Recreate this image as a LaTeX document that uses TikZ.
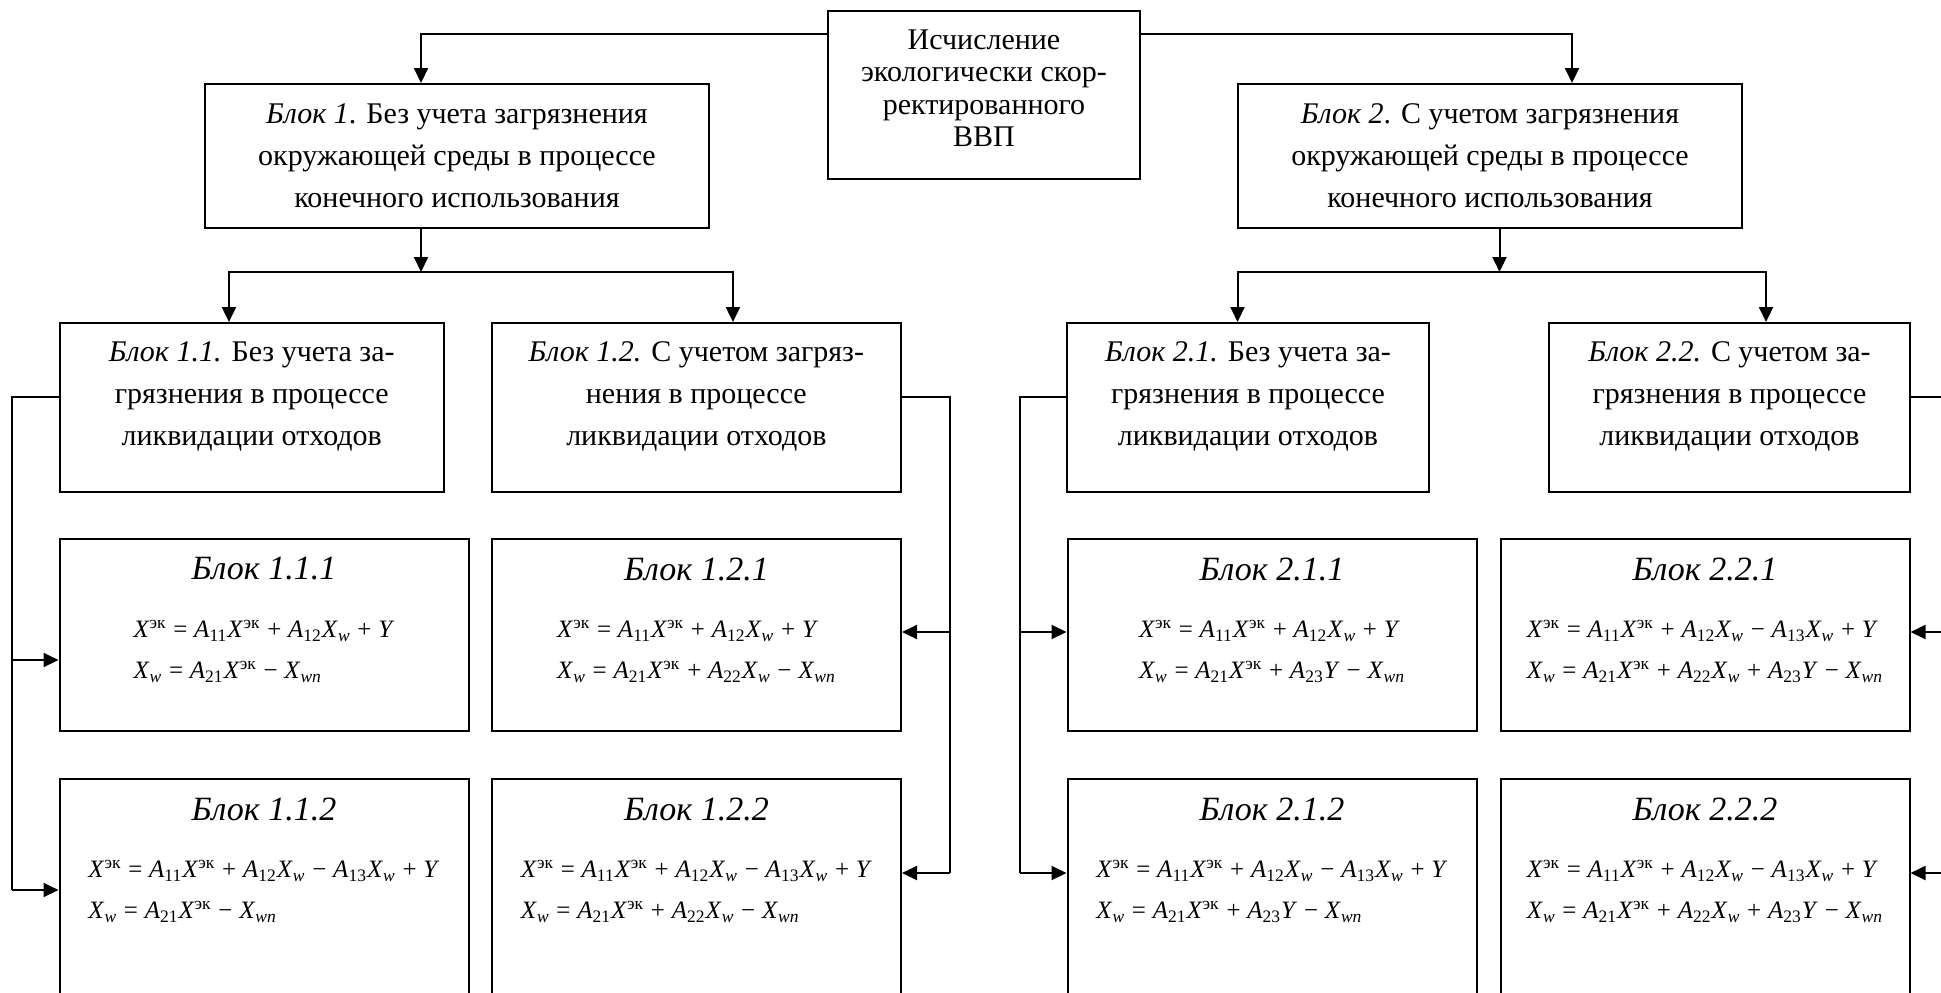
\documentclass[tikz,border=0pt]{standalone}
\usepackage{fontspec}
\setmainfont{Liberation Serif}
\usetikzlibrary{arrows.meta,positioning}

\newcommand{\Xek}{\textit{X}\textsuperscript{эк}}
\newcommand{\Xw}{\textit{X}\textsubscript{\textit{w}}}
\newcommand{\Xwn}{\textit{X}\textsubscript{\textit{wn}}}
\newcommand{\Ai}[1]{\textit{A}\textsubscript{#1}}
\newcommand{\Yv}{\textit{Y}}
\newcommand{\opr}[1]{\hspace{.27em}#1\hspace{.27em}}

\tikzset{
	blk/.style={draw,line width=1pt,align=center,inner sep=0pt,font=\fontsize{15}{21}\selectfont},
	topblk/.style={blk,font=\fontsize{15}{16.2}\selectfont},
	frm/.style={draw,line width=1pt,inner sep=0pt,minimum width=204.5pt},
	head/.style={inner sep=0pt,font=\fontsize{17}{20}\selectfont\itshape},
	eqs/.style={inner sep=0pt,align=left,font=\fontsize{12.5}{20.5}\selectfont},
	con/.style={line width=1pt},
	arr/.style={con,-{Triangle[length=7.5pt,width=7pt]}}
}

\begin{document}
\begin{tikzpicture}[x=0.5pt,y=-0.5pt]
\useasboundingbox (0,0) rectangle (1941,992);
\clip (0,0) rectangle (1941,992);
\node[topblk,minimum width=156pt,minimum height=84pt,text depth=7pt] (top) at (984,95)
	{Исчисление\\экологически скор-\\ректированного\\ВВП};
\node[blk,minimum width=252pt,minimum height=72pt] (b1) at (457,156)
	{\textit{Блок 1}. Без учета загрязнения\\окружающей среды в процессе\\конечного использования};
\node[blk,minimum width=252pt,minimum height=72pt] (b2) at (1490,156)
	{\textit{Блок 2}. С учетом загрязнения\\окружающей среды в процессе\\конечного использования};
\node[blk,minimum width=191.75pt,minimum height=84.5pt,text depth=14pt] (b11) at (251.75,407.5)
	{\textit{Блок 1.1.} Без учета за-\\грязнения в процессе\\ликвидации отходов};
\node[blk,minimum width=204.35pt,minimum height=84.5pt,text depth=14pt] (b12) at (696.35,407.5)
	{\textit{Блок 1.2.} С учетом загряз-\\нения в процессе\\ликвидации отходов};
\node[blk,minimum width=181pt,minimum height=84.5pt,text depth=14pt] (b21) at (1248,407.5)
	{\textit{Блок 2.1.} Без учета за-\\грязнения в процессе\\ликвидации отходов};
\node[blk,minimum width=180.5pt,minimum height=84.5pt,text depth=14pt] (b22) at (1729.5,407.5)
	{\textit{Блок 2.2.} С учетом за-\\грязнения в процессе\\ликвидации отходов};

\node[frm,minimum height=96pt] (f111) at (264,635) {};
\node[frm,minimum height=96pt] (f121) at (696.5,635) {};
\node[frm,minimum height=96pt] (f211) at (1272,635) {};
\node[frm,minimum height=96pt] (f221) at (1705,635) {};
\node[frm,minimum height=130.5pt] (f112) at (264,909.5) {};
\node[frm,minimum height=130.5pt] (f122) at (696.5,909.5) {};
\node[frm,minimum height=130.5pt] (f212) at (1272,909.5) {};
\node[frm,minimum height=130.5pt] (f222) at (1705,909.5) {};

\node[head] (t111) at ([yshift=-15.5pt]f111.north) {Блок 1.1.1};
\node[head] (t121) at ([yshift=-15.5pt]f121.north) {Блок 1.2.1};
\node[head] (t211) at ([yshift=-15.5pt]f211.north) {Блок 2.1.1};
\node[head] (t221) at ([yshift=-15.5pt]f221.north) {Блок 2.2.1};
\node[head] (t112) at ([yshift=-15.5pt]f112.north) {Блок 1.1.2};
\node[head] (t122) at ([yshift=-15.5pt]f122.north) {Блок 1.2.2};
\node[head] (t212) at ([yshift=-15.5pt]f212.north) {Блок 2.1.2};
\node[head] (t222) at ([yshift=-15.5pt]f222.north) {Блок 2.2.2};

\node[eqs] (e111) at ([yshift=-56.75pt]f111.north)
	{\Xek\opr{=}\Ai{11}\Xek\opr{+}\Ai{12}\Xw\opr{+}\Yv\\
	\Xw\opr{=}\Ai{21}\Xek\opr{−}\Xwn};
\node[eqs] (e121) at ([yshift=-56.75pt]f121.north)
	{\Xek\opr{=}\Ai{11}\Xek\opr{+}\Ai{12}\Xw\opr{+}\Yv\\
	\Xw\opr{=}\Ai{21}\Xek\opr{+}\Ai{22}\Xw\opr{−}\Xwn};
\node[eqs] (e211) at ([yshift=-56.75pt]f211.north)
	{\Xek\opr{=}\Ai{11}\Xek\opr{+}\Ai{12}\Xw\opr{+}\Yv\\
	\Xw\opr{=}\Ai{21}\Xek\opr{+}\Ai{23}\Yv\opr{−}\Xwn};
\node[eqs] (e221) at ([yshift=-56.75pt]f221.north)
	{\Xek\opr{=}\Ai{11}\Xek\opr{+}\Ai{12}\Xw\opr{−}\Ai{13}\Xw\opr{+}\Yv\\
	\Xw\opr{=}\Ai{21}\Xek\opr{+}\Ai{22}\Xw\opr{+}\Ai{23}\Yv\opr{−}\Xwn};
\node[eqs] (e112) at ([yshift=-56.75pt]f112.north)
	{\Xek\opr{=}\Ai{11}\Xek\opr{+}\Ai{12}\Xw\opr{−}\Ai{13}\Xw\opr{+}\Yv\\
	\Xw\opr{=}\Ai{21}\Xek\opr{−}\Xwn};
\node[eqs] (e122) at ([yshift=-56.75pt]f122.north)
	{\Xek\opr{=}\Ai{11}\Xek\opr{+}\Ai{12}\Xw\opr{−}\Ai{13}\Xw\opr{+}\Yv\\
	\Xw\opr{=}\Ai{21}\Xek\opr{+}\Ai{22}\Xw\opr{−}\Xwn};
\node[eqs] (e212) at ([yshift=-56.75pt]f212.north)
	{\Xek\opr{=}\Ai{11}\Xek\opr{+}\Ai{12}\Xw\opr{−}\Ai{13}\Xw\opr{+}\Yv\\
	\Xw\opr{=}\Ai{21}\Xek\opr{+}\Ai{23}\Yv\opr{−}\Xwn};
\node[eqs] (e222) at ([yshift=-56.75pt]f222.north)
	{\Xek\opr{=}\Ai{11}\Xek\opr{+}\Ai{12}\Xw\opr{−}\Ai{13}\Xw\opr{+}\Yv\\
	\Xw\opr{=}\Ai{21}\Xek\opr{+}\Ai{22}\Xw\opr{+}\Ai{23}\Yv\opr{−}\Xwn};

\draw[arr] ([yshift=-12pt]top.north west) -| ([xshift=-18pt]b1.north);
\draw[arr] ([yshift=-12pt]top.north east) -| ([xshift=41pt]b2.north);

\coordinate (j1) at (421,272);
\coordinate (j2) at (1499.5,272);
\draw[arr] ([xshift=-18pt]b1.south) -- (j1);
\draw[arr] (j1) -| ([xshift=-11.4pt]b11.north);
\draw[arr] (j1) -| ([xshift=18.3pt]b12.north);
\draw[arr] ([xshift=4.75pt]b2.south) -- (j2);
\draw[arr] (j2) -| ([xshift=-5.25pt]b21.north);
\draw[arr] (j2) -| ([xshift=18.25pt]b22.north);

\coordinate (p111) at (12,660);
\coordinate (p112) at (12,890);
\coordinate (p121) at (950,632);
\coordinate (p122) at (950,873);
\coordinate (p211) at (1019.5,632);
\coordinate (p212) at (1019.5,873);
\coordinate (p221) at (1965,632);
\coordinate (p222) at (1965,873);
\draw[con] ([yshift=5.25pt]b11.west) -| (p112);
\draw[con] ([yshift=5.25pt]b12.east) -| (p122);
\draw[con] ([yshift=5.25pt]b21.west) -| (p212);
\draw[con] ([yshift=5.25pt]b22.east) -| (p222);
\draw[arr] (p111) -- (p111 -| f111.west);
\draw[arr] (p112) -- (p112 -| f112.west);
\draw[arr] (p121) -- (p121 -| f121.east);
\draw[arr] (p122) -- (p122 -| f122.east);
\draw[arr] (p211) -- (p211 -| f211.west);
\draw[arr] (p212) -- (p212 -| f212.west);
\draw[arr] (p221) -- (p221 -| f221.east);
\draw[arr] (p222) -- (p222 -| f222.east);
\end{tikzpicture}
\end{document}
